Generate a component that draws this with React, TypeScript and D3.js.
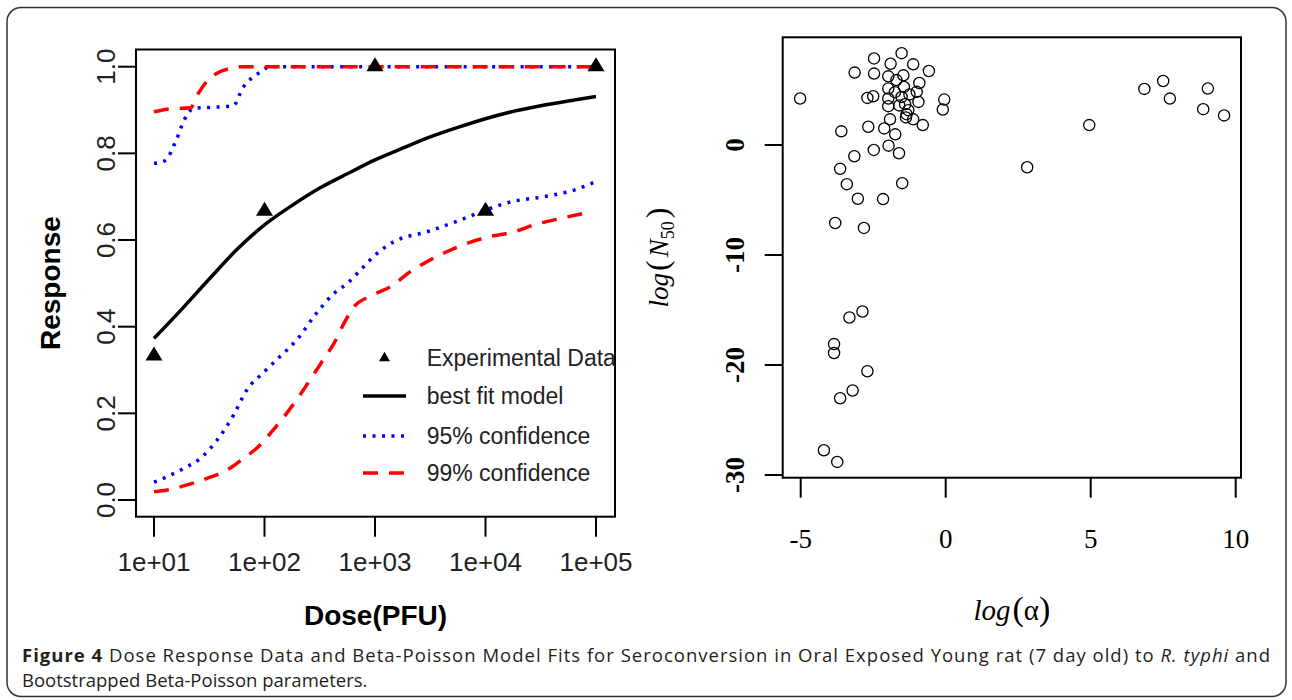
import React from 'react';
import * as d3 from 'd3';

// ---------- Left panel data (dose on log10 scale) ----------
const doseTickLogs = [1, 2, 3, 4, 5];
const doseTickLabels = ['1e+01', '1e+02', '1e+03', '1e+04', '1e+05'];
const responseTicks = [0, 0.2, 0.4, 0.6, 0.8, 1.0];
const responseTickLabels = ['0.0', '0.2', '0.4', '0.6', '0.8', '1.0'];

const expLogDose = [1, 2, 3, 4, 5];
const expResponse = [0.333, 0.667, 1.0, 0.667, 1.0];

const fitLogDose = [1, 1.25, 1.5, 1.75, 2, 2.25, 2.5, 2.75, 3, 3.25, 3.5, 3.75, 4, 4.25, 4.5, 4.75, 5];
const fitResponse = [0.373, 0.44, 0.51, 0.578, 0.635, 0.68, 0.72, 0.753, 0.785, 0.812, 0.838, 0.86, 0.88, 0.897, 0.91, 0.921, 0.931];

const ci95UpperLog = [1.0, 1.1, 1.2, 1.28, 1.36, 1.5, 1.72, 1.8, 1.88, 1.96, 2.05, 5.0];
const ci95Upper = [0.777, 0.783, 0.83, 0.88, 0.904, 0.906, 0.91, 0.95, 0.973, 0.987, 1.0, 1.0];

const ci99UpperLog = [1.0, 1.12, 1.33, 1.4, 1.5, 1.57, 1.69, 1.78, 5.0];
const ci99Upper = [0.896, 0.902, 0.905, 0.938, 0.972, 0.985, 0.996, 1.0, 1.0];

const ci95LowerLog = [1.0, 1.12, 1.27, 1.42, 1.57, 1.72, 1.84, 1.99, 2.14, 2.29, 2.47, 2.63, 2.75, 2.87, 3.0, 3.17, 3.47, 3.77, 4.0, 4.23, 4.53, 4.8, 5.0];
const ci95Lower = [0.041, 0.054, 0.073, 0.096, 0.138, 0.196, 0.254, 0.294, 0.331, 0.369, 0.431, 0.477, 0.5, 0.531, 0.565, 0.596, 0.619, 0.646, 0.669, 0.688, 0.7, 0.715, 0.735];

const ci99LowerLog = [1.0, 1.12, 1.3, 1.48, 1.66, 1.81, 1.96, 2.08, 2.2, 2.32, 2.44, 2.53, 2.63, 2.72, 2.81, 2.95, 3.14, 3.32, 3.47, 3.65, 3.83, 4.04, 4.26, 4.44, 4.68, 4.92];
const ci99Lower = [0.019, 0.023, 0.035, 0.05, 0.069, 0.096, 0.127, 0.162, 0.2, 0.242, 0.288, 0.323, 0.362, 0.408, 0.446, 0.47, 0.492, 0.527, 0.55, 0.573, 0.592, 0.608, 0.619, 0.635, 0.65, 0.663];

const legendLabels = ['Experimental Data', 'best fit model', '95% confidence', '99% confidence'];

// ---------- Right panel data (bootstrapped parameters) ----------
const alphaTicks = [-5, 0, 5, 10];
const n50Ticks = [0, -10, -20, -30];
const logAlpha = [
  -5.02, -1.52, -2.47, -1.9, -1.12, -3.14, -2.47, -0.58, -1.98, -1.46,
  -0.91, -1.98, -1.44, -1.0, -2.7, -2.5, -1.98, -1.52, -0.94, -1.98,
  -1.4, -1.29, -0.05, -0.1, -1.92, -1.37, -1.12, -0.79, -2.67, -2.12,
  -1.74, -3.6, -1.97, -2.48, -1.61, -3.15, -3.64, -3.41, -1.5, -3.03,
  -2.16, -1.75, -1.6, -1.25, -1.7, -1.35,
  -3.81, -2.82, -2.87, -3.32, -3.85, -3.85, -2.7, -3.21, -3.64, -4.2, -3.74,
  7.5, 6.85, 7.73, 9.04, 8.88, 9.6, 4.95, 2.81,
];
const logN50 = [
  4.23, 8.35, 7.87, 7.39, 7.33, 6.58, 6.49, 6.73, 6.24, 6.33,
  5.64, 5.13, 5.28, 4.83, 4.28, 4.43, 4.23, 4.37, 3.92, 3.53,
  3.71, 3.17, 4.13, 3.23, 2.33, 2.51, 2.33, 1.81, 1.66, 1.51,
  0.97, 1.24, -0.06, -0.45, -0.75, -1.02, -2.17, -3.56, -3.47, -4.89,
  -4.92, 4.8, 3.6, 4.6, 5.9, 2.8,
  -7.09, -7.54, -15.14, -15.68, -18.1, -18.91, -20.57, -22.32, -23.02, -27.75, -28.81,
  5.82, 5.1, 4.22, 5.13, 3.26, 2.69, 1.81, -2.02,
];

const SANS = '"Liberation Sans", Arial, Helvetica, sans-serif';
const SERIF = '"Liberation Serif", "Times New Roman", serif';
const CAPTION = '"Open Sans", Lato, sans-serif';

export default function App() {
  // Left panel layout
  const L = { x0: 136, x1: 615, y0: 49.5, y1: 516.7 };
  const xL = d3.scaleLinear().domain([1, 5]).range([154, 596]);
  const yL = d3.scaleLinear().domain([0, 1]).range([500, 66.7]);

  // Right panel layout
  const R = { x0: 782.7, x1: 1241, y0: 37.3, y1: 477.7 };
  const xR = d3.scaleLinear().domain([-5, 10]).range([800.7, 1235.7]);
  const yR = d3.scaleLinear().domain([-30, 0]).range([475, 145]);

  const mkLine = (xs: number[], ys: number[]) =>
    d3
      .line<number>()
      .x((_, i) => xL(xs[i]))
      .y((_, i) => yL(ys[i]))
      .curve(d3.curveMonotoneX)(xs) as string;

  const tri = (cx: number, cy: number, w: number, h: number) =>
    `M${cx - w / 2},${cy + h / 3}L${cx + w / 2},${cy + h / 3}L${cx},${cy - (2 * h) / 3}Z`;

  const blueDash = '3 6.5';
  const redDash = '15 11';

  const legendY = [358, 396, 436, 473];
  const legSymX0 = 363;
  const legSymX1 = 406;
  const legTextX = 426.7;

  return (
    <svg
      width={1292}
      height={700}
      style={{ position: 'absolute', left: 0, top: 0, display: 'block', background: '#fff' }}
    >
      <defs>
        <clipPath id="leftBox">
          <rect x={L.x0} y={L.y0} width={L.x1 - L.x0} height={L.y1 - L.y0} />
        </clipPath>
      </defs>
      {/* outer frame */}
      <rect x={7} y={7.5} width={1279} height={689} rx={14} ry={14} fill="none" stroke="#333" strokeWidth={1.5} />

      {/* ================= LEFT PANEL ================= */}
      <rect x={L.x0} y={L.y0} width={L.x1 - L.x0} height={L.y1 - L.y0} fill="none" stroke="#000" strokeWidth={2} />
      {/* x ticks */}
      {doseTickLogs.map((v, i) => (
        <g key={'xt' + i}>
          <line x1={xL(v)} x2={xL(v)} y1={L.y1} y2={L.y1 + 20} stroke="#000" strokeWidth={2} />
          <text x={xL(v)} y={571} textAnchor="middle" fontFamily={SANS} fontSize={26} fill="#222">
            {doseTickLabels[i]}
          </text>
        </g>
      ))}
      {/* y ticks */}
      {responseTicks.map((v, i) => (
        <g key={'yt' + i}>
          <line x1={L.x0 - 18} x2={L.x0} y1={yL(v)} y2={yL(v)} stroke="#000" strokeWidth={2} />
          <text
            transform={`translate(115,${yL(v)}) rotate(-90)`}
            textAnchor="middle"
            fontFamily={SANS}
            fontSize={26}
            fill="#222"
          >
            {responseTickLabels[i]}
          </text>
        </g>
      ))}
      <text x={(L.x0 + L.x1) / 2} y={625} textAnchor="middle" fontFamily={SANS} fontWeight="bold" fontSize={28} fill="#000">
        Dose(PFU)
      </text>
      <text
        transform={`translate(60,${(L.y0 + L.y1) / 2}) rotate(-90)`}
        textAnchor="middle"
        fontFamily={SANS}
        fontWeight="bold"
        fontSize={28}
        fill="#000"
      >
        Response
      </text>

      {/* curves */}
      <path d={mkLine(fitLogDose, fitResponse)} fill="none" stroke="#000" strokeWidth={3.5} />
      <path d={mkLine(ci95LowerLog, ci95Lower)} fill="none" stroke="#0000ff" strokeWidth={3.5} strokeDasharray={blueDash} />
      <path d={mkLine(ci95UpperLog, ci95Upper)} fill="none" stroke="#0000ff" strokeWidth={3.5} strokeDasharray={blueDash} />
      <path d={mkLine(ci99LowerLog, ci99Lower)} fill="none" stroke="#ff0000" strokeWidth={3.5} strokeDasharray={redDash} />
      <path d={mkLine(ci99UpperLog, ci99Upper)} fill="none" stroke="#ff0000" strokeWidth={3.5} strokeDasharray={redDash} />

      {/* experimental data */}
      {expLogDose.map((v, i) => (
        <path key={'tri' + i} d={tri(xL(v), yL(expResponse[i]), 17, 14)} fill="#000" />
      ))}

      {/* legend */}
      <g clipPath="url(#leftBox)">
        <path d={tri((legSymX0 + legSymX1) / 2, legendY[0], 11, 9.5)} fill="#000" />
        <line x1={legSymX0} x2={legSymX1} y1={legendY[1]} y2={legendY[1]} stroke="#000" strokeWidth={3.5} />
        <line x1={legSymX0} x2={legSymX1} y1={legendY[2]} y2={legendY[2]} stroke="#0000ff" strokeWidth={3.5} strokeDasharray={blueDash} />
        <line x1={legSymX0} x2={legSymX1} y1={legendY[3]} y2={legendY[3]} stroke="#ff0000" strokeWidth={3.5} strokeDasharray={redDash} />
        {legendLabels.map((t, i) => (
          <text key={'lg' + i} x={legTextX} y={legendY[i] + 8} fontFamily={SANS} fontSize={23} fill="#222">
            {t}
          </text>
        ))}
      </g>

      {/* ================= RIGHT PANEL ================= */}
      <rect x={R.x0} y={R.y0} width={R.x1 - R.x0} height={R.y1 - R.y0} fill="none" stroke="#000" strokeWidth={2} />
      {alphaTicks.map((v, i) => (
        <g key={'rx' + i}>
          <line x1={xR(v)} x2={xR(v)} y1={R.y1} y2={R.y1 + 20} stroke="#000" strokeWidth={2} />
          <text x={xR(v)} y={548} textAnchor="middle" fontFamily={SERIF} fontSize={27} fill="#000">
            {String(v)}
          </text>
        </g>
      ))}
      {n50Ticks.map((v, i) => (
        <g key={'ry' + i}>
          <line x1={R.x0 - 18} x2={R.x0} y1={yR(v)} y2={yR(v)} stroke="#000" strokeWidth={2} />
          <text
            transform={`translate(744,${yR(v)}) rotate(-90)`}
            textAnchor="middle"
            fontFamily={SERIF}
            fontWeight="bold"
            fontSize={27}
            fill="#000"
          >
            {String(v)}
          </text>
        </g>
      ))}
      {logAlpha.map((a, i) => (
        <circle key={'pt' + i} cx={xR(a)} cy={yR(logN50[i])} r={5.6} fill="none" stroke="#000" strokeWidth={1.3} />
      ))}
      {/* axis titles */}
      <text x={(R.x0 + R.x1) / 2} y={620} textAnchor="middle" fontFamily={SERIF} fontSize={29} fill="#000">
        <tspan fontStyle="italic">log</tspan>
        <tspan fontSize={34} dx={2}>(</tspan>
        <tspan>α</tspan>
        <tspan fontSize={34}>)</tspan>
      </text>
      <text
        transform={`translate(668,${(R.y0 + R.y1) / 2}) rotate(-90)`}
        textAnchor="middle"
        fontFamily={SERIF}
        fontSize={27}
        fill="#000"
      >
        <tspan fontStyle="italic">log</tspan>
        <tspan fontSize={32} dx={2}>(</tspan>
        <tspan fontStyle="italic" dx={3}>N</tspan>
        <tspan fontSize={18} dy={6}>50</tspan>
        <tspan fontSize={32} dy={-6} dx={3}>)</tspan>
      </text>

      {/* ================= CAPTION ================= */}
      <text x={22} y={662} fontFamily={CAPTION} fontSize={18.5} fill="#231f20" textLength={1248} lengthAdjust="spacing">
        <tspan fontWeight="bold">Figure 4</tspan>
        <tspan> Dose Response Data and Beta-Poisson Model Fits for Seroconversion in Oral Exposed Young rat (7 day old) to </tspan>
        <tspan fontStyle="italic">R. typhi</tspan>
        <tspan> and</tspan>
      </text>
      <text x={22} y={687} fontFamily={CAPTION} fontSize={18.5} fill="#231f20">
        Bootstrapped Beta-Poisson parameters.
      </text>
    </svg>
  );
}
